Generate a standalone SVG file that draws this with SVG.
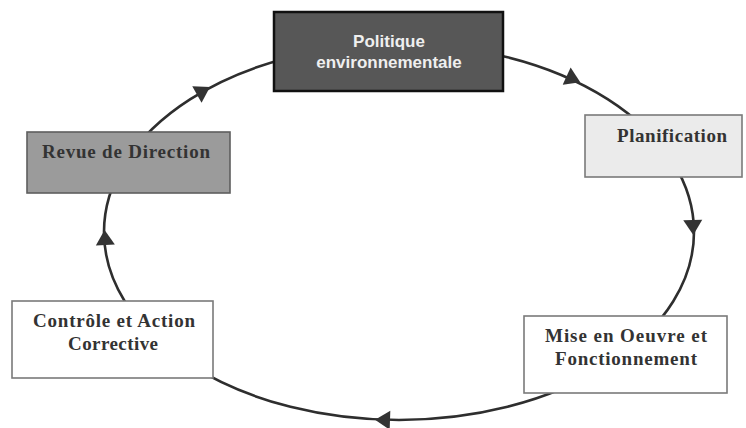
<svg xmlns="http://www.w3.org/2000/svg" width="746" height="428" viewBox="0 0 746 428">
  <style>
    .cycle { fill: none; stroke: #2e2e2e; stroke-width: 2.6; }
    .head { fill: #333333; }
    .box { stroke-width: 1.6; }
    .serif { font-family: "Liberation Serif", "Times New Roman", serif; font-weight: bold; font-size: 19px; fill: #333333; text-anchor: middle; }
    .sans { font-family: "Liberation Sans", Arial, sans-serif; font-weight: bold; font-size: 17px; fill: #efefef; text-anchor: middle; }
  </style>
  <defs>
    <polygon id="arrowhead" class="head" points="8,0 -7,-9.5 -7,9.5"/>
  </defs>
  <rect width="746" height="428" fill="#ffffff"/>

  <!-- management cycle: ellipse with clockwise arrowheads -->
  <g id="connectors">
    <ellipse class="cycle" cx="399" cy="232" rx="295" ry="188"/>
    <use href="#arrowhead" transform="translate(203,91) rotate(-29.4)"/>
    <use href="#arrowhead" transform="translate(573,79) rotate(24.8)"/>
    <use href="#arrowhead" transform="translate(693,227) rotate(88)"/>
    <use href="#arrowhead" transform="translate(383,420) rotate(182)"/>
    <use href="#arrowhead" transform="translate(105,238) rotate(-93)"/>
  </g>

  <g id="politique">
    <rect x="274" y="12" width="229" height="79" fill="#575757" stroke="#111111" stroke-width="2.5"/>
    <text class="sans" x="389" y="47">Politique</text>
    <text class="sans" x="389" y="68">environnementale</text>
  </g>

  <g id="planification">
    <rect class="box" x="585" y="115" width="157" height="62" fill="#ebebeb" stroke="#7a7a7a"/>
    <text class="serif" x="672" y="142" textLength="110" lengthAdjust="spacing">Planification</text>
  </g>

  <g id="mise-en-oeuvre">
    <rect class="box" x="524" y="316" width="203" height="77" fill="#ffffff" stroke="#7a7a7a"/>
    <text class="serif" x="626" y="342" textLength="162" lengthAdjust="spacing">Mise en Oeuvre et</text>
    <text class="serif" x="626" y="365" textLength="142" lengthAdjust="spacing">Fonctionnement</text>
  </g>

  <g id="controle">
    <rect class="box" x="12" y="301" width="201" height="77" fill="#ffffff" stroke="#7a7a7a"/>
    <text class="serif" x="114" y="327" textLength="162" lengthAdjust="spacing">Contrôle et Action</text>
    <text class="serif" x="113" y="350" textLength="90" lengthAdjust="spacing">Corrective</text>
  </g>

  <g id="revue">
    <rect class="box" x="27" y="132" width="203" height="61" fill="#9b9b9b" stroke="#5e5e5e"/>
    <text class="serif" x="126" y="158" textLength="168" lengthAdjust="spacing">Revue de Direction</text>
  </g>
</svg>
